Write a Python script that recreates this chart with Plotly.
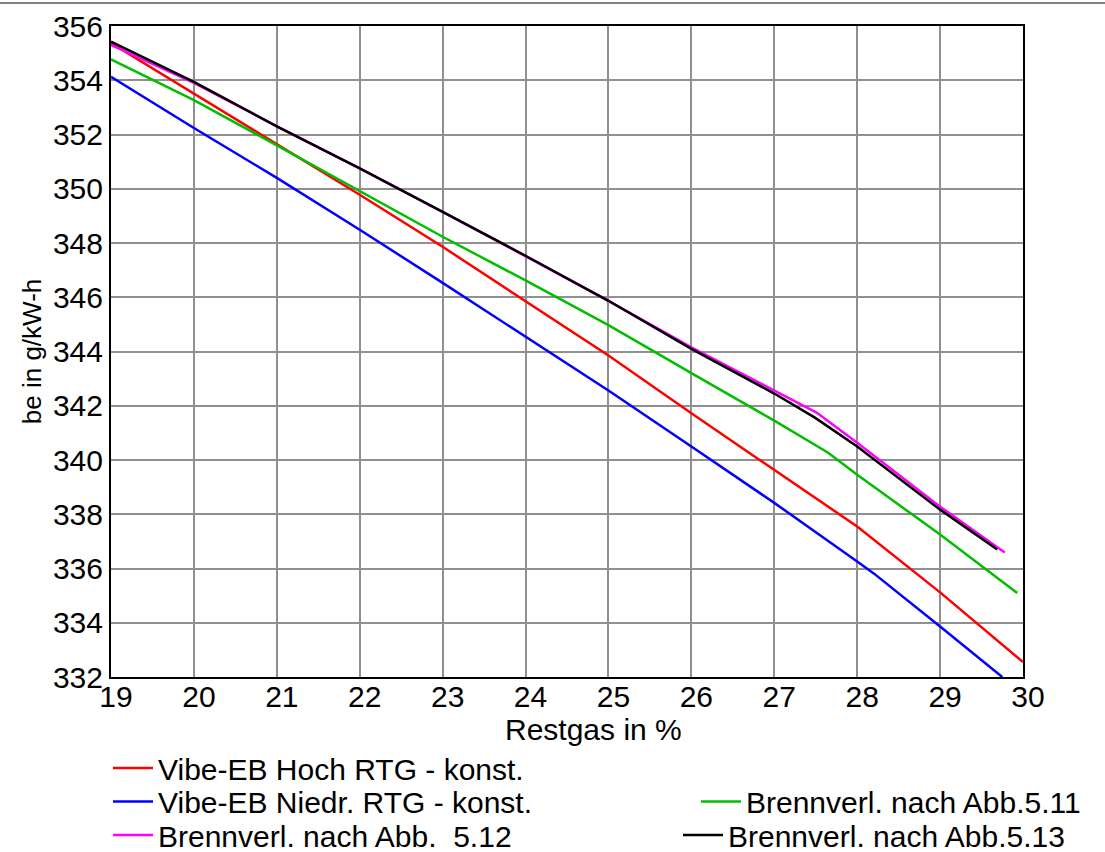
import plotly.graph_objects as go

# Data
x_hoch = [19, 20, 21, 22, 23, 24, 25, 26, 27, 28, 29, 30]
y_hoch = [355.37, 353.5, 351.65, 349.78, 347.86, 345.85, 343.85, 341.72, 339.65, 337.55, 335.12, 332.55]

x_niedr = [19, 20, 21, 22, 23, 24, 25, 26, 27, 28, 28.2, 29, 29.75]
y_niedr = [354.13, 352.24, 350.4, 348.49, 346.53, 344.55, 342.56, 340.5, 338.42, 336.26, 335.82, 333.86, 332.0]

x_511 = [19, 20, 21, 22, 23, 24, 25, 26, 27, 27.65, 28, 29, 29.93]
y_511 = [354.77, 353.27, 351.6, 349.9, 348.23, 346.62, 344.97, 343.2, 341.45, 340.27, 339.46, 337.25, 335.1]

x_512 = [19, 20, 21, 22, 23, 24, 25, 26, 27, 27.51, 28, 29, 29.78]
y_512 = [355.3, 353.9, 352.3, 350.75, 349.15, 347.5, 345.87, 344.15, 342.58, 341.75, 340.64, 338.28, 336.59]

x_513 = [19, 20, 21, 22, 23, 24, 25, 26, 27, 27.49, 28, 29, 29.69]
y_513 = [355.42, 353.94, 352.3, 350.75, 349.15, 347.53, 345.87, 344.1, 342.45, 341.56, 340.5, 338.17, 336.7]

names = ["Vibe-EB Hoch RTG - konst.", "Vibe-EB Niedr. RTG - konst.",
         "Brennverl. nach Abb.5.11", "Brennverl. nach Abb.  5.12", "Brennverl. nach Abb.5.13"]
colors = ["#FF0000", "#0000FF", "#00BE00", "#FF00FF", "#000000"]

x_ticks = list(range(19, 31))
y_ticks = list(range(332, 357, 2))

x_title = "Restgas in %"
y_title = "be in g/kW-h"

FONT = "Liberation Sans, Arial, sans-serif"

series = [(x_hoch, y_hoch), (x_niedr, y_niedr), (x_511, y_511), (x_512, y_512), (x_513, y_513)]
legend_ids = ["legend", "legend2", "legend4", "legend3", "legend5"]

fig = go.Figure()
for (xs, ys), name, col, lg in zip(series, names, colors, legend_ids):
    fig.add_trace(go.Scatter(x=xs, y=ys, mode="lines", name=name, showlegend=True,
                             line=dict(color=col, width=2.5), legend=lg))

# plot area in pixels: x 111..1023, y 26..677
L, R, T, B = 111, 1023, 26, 677
W, H = 1105, 852
pw, ph = R - L, B - T

def px_x(px):
    return (px - L) / pw

def px_y(py):
    return (B - py) / ph

def leg(px, py):
    return dict(x=px_x(px), y=px_y(py), xanchor="left", yanchor="middle",
                orientation="v", bgcolor="rgba(0,0,0,0)", borderwidth=0,
                itemwidth=40, visible=True,
                font=dict(family=FONT, size=30, color="black"))

fig.update_layout(
    width=W, height=H,
    showlegend=True,
    margin=dict(l=L, r=W - R, t=T, b=H - B, autoexpand=False),
    paper_bgcolor="white", plot_bgcolor="white",
    font=dict(family=FONT, size=30, color="black"),
    legend=leg(108, 768),
    legend2=leg(108, 801.5),
    legend3=leg(108, 835),
    legend4=leg(696, 801.5),
    legend5=leg(678, 835),
    xaxis=dict(range=[19, 30], tickvals=x_ticks, ticktext=[str(v) for v in x_ticks],
               showgrid=True, gridcolor="#909090", gridwidth=2,
               showline=True, linecolor="black", linewidth=2, mirror=True,
               ticks="", zeroline=False, ticklabelshift=5, ticklabelstandoff=-8,
               tickfont=dict(family=FONT, size=30)),
    yaxis=dict(range=[332, 356], tickvals=y_ticks, ticktext=[str(v) for v in y_ticks],
               showgrid=True, gridcolor="#909090", gridwidth=2,
               showline=True, linecolor="black", linewidth=2, mirror=True,
               ticks="", zeroline=False,
               title=dict(text=y_title, font=dict(family=FONT, size=26), standoff=4),
               tickfont=dict(family=FONT, size=30)),
)

# x axis title placed as in the reference (slightly right of centre)
fig.add_annotation(text=x_title, xref="paper", yref="paper",
                   x=px_x(593), y=px_y(729), xanchor="center", yanchor="middle",
                   showarrow=False, font=dict(family=FONT, size=30, color="black"))

# thin grey border line at the very top of the picture
fig.add_shape(type="line", xref="paper", yref="paper",
              x0=px_x(0), x1=px_x(W), y0=px_y(3), y1=px_y(3),
              line=dict(color="#808080", width=2))

fig.write_html("out.html")
